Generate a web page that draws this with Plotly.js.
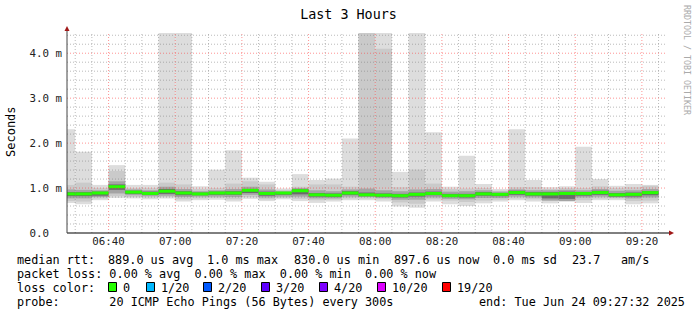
<!DOCTYPE html>
<html><head><meta charset="utf-8">
<script src="https://cdn.plot.ly/plotly-3.0.1.min.js"></script>
<style>html,body{margin:0;padding:0;background:#fff;}#chart{width:697px;height:315px;}</style>
</head><body><div id="chart"></div>
<script>
// ---------------- data ----------------
const day = '2025-06-24 ';
const intervalStart = ['06:25','06:30','06:35','06:40','06:45','06:50','06:55','07:00','07:05','07:10','07:15','07:20',
  '07:25','07:30','07:35','07:40','07:45','07:50','07:55','08:00','08:05','08:10','08:15','08:20',
  '08:25','08:30','08:35','08:40','08:45','08:50','08:55','09:00','09:05','09:10','09:15','09:20'];
// median rtt (ms)
const medianMs = [0.87,0.87,0.89,1.03,0.91,0.88,0.93,0.89,0.87,0.89,0.89,0.95,
  0.88,0.89,0.94,0.85,0.84,0.89,0.85,0.84,0.83,0.86,0.88,0.83,
  0.83,0.87,0.86,0.90,0.87,0.87,0.88,0.88,0.90,0.85,0.86,0.898];
// fastest / slowest ping (ms)
const minMs = [0.67,0.64,0.73,0.78,0.77,0.75,0.77,0.70,0.73,0.74,0.70,0.76,
  0.71,0.75,0.71,0.67,0.70,0.73,0.73,0.70,0.59,0.56,0.70,0.64,
  0.60,0.66,0.70,0.73,0.70,0.66,0.70,0.67,0.73,0.73,0.64,0.66];
const maxMs = [2.31,1.81,1.07,1.51,1.07,1.07,4.60,4.60,1.04,1.41,1.84,1.23,
  1.14,0.99,1.31,1.18,1.21,2.10,4.60,4.60,1.36,4.60,2.24,1.03,
  1.72,1.09,0.98,2.31,1.18,1.02,1.04,1.92,1.20,1.05,1.09,1.07];
// 2nd fastest / 2nd slowest ping (ms)
const p2Lo = [0.71,0.70,0.77,0.82,0.80,0.79,0.80,0.75,0.77,0.78,0.75,0.80,
  0.75,0.78,0.76,0.73,0.74,0.77,0.77,0.75,0.68,0.65,0.75,0.72,
  0.69,0.72,0.74,0.77,0.75,0.72,0.74,0.73,0.77,0.77,0.71,0.72];
const p2Hi = [1.07,1.12,1.00,1.38,1.00,1.00,1.12,1.08,0.98,1.00,1.10,1.15,
  1.08,0.96,1.03,1.08,1.08,1.03,4.60,4.10,1.02,1.41,1.10,0.98,
  0.99,1.00,0.94,1.02,1.02,0.98,1.00,1.00,1.04,1.00,1.02,1.05];
// 4th fastest / 4th slowest ping (ms)
const p4Lo = [0.77,0.77,0.80,0.88,0.84,0.82,0.83,0.80,0.81,0.81,0.80,0.85,
  0.79,0.81,0.81,0.77,0.77,0.81,0.80,0.78,0.74,0.74,0.79,0.76,
  0.75,0.78,0.78,0.81,0.79,0.72,0.71,0.79,0.81,0.79,0.77,0.79];
const p4Hi = [0.97,0.96,0.95,1.15,0.97,0.95,1.03,0.98,0.93,0.95,0.98,1.03,
  0.97,0.93,1.00,0.95,0.93,0.97,0.99,0.95,0.93,0.97,0.98,0.92,
  0.93,0.95,0.92,0.97,0.95,0.95,0.96,0.95,0.98,0.94,0.95,0.98];
// 7th fastest / 7th slowest ping (ms)
const p7Lo = [0.82,0.82,0.83,0.96,0.87,0.85,0.87,0.84,0.84,0.85,0.85,0.89,
  0.83,0.85,0.86,0.81,0.80,0.85,0.82,0.81,0.79,0.81,0.84,0.80,
  0.79,0.83,0.82,0.85,0.83,0.77,0.76,0.83,0.85,0.81,0.81,0.84];
const p7Hi = [0.91,0.91,0.92,1.08,0.94,0.92,0.98,0.93,0.90,0.92,0.93,0.98,
  0.92,0.91,0.97,0.89,0.88,0.93,0.90,0.88,0.87,0.90,0.92,0.87,
  0.87,0.91,0.89,0.94,0.91,0.91,0.92,0.91,0.94,0.89,0.90,0.93];

const yTickVals = [0, 1, 2, 3, 4];
const yTickText = ['0.0\u00a0\u00a0', '1.0 m', '2.0 m', '3.0 m', '4.0 m'];
const lossLabels = ['0', '1/20', '2/20', '3/20', '4/20', '10/20', '19/20'];
const lossColors = ['#26ff00', '#00b8ff', '#0059ff', '#5e00ff', '#7e00ff', '#dd00ff', '#ff0000'];
const rttTokens = ['median rtt:', '889.0 us avg', '1.0 ms max', '830.0 us min', '897.6 us now', '0.0 ms sd', '23.7', 'am/s'];
const legendLine2 = 'packet loss: 0.00 % avg  0.00 % max  0.00 % min  0.00 % now';
const legendLine3 = 'loss color:';
const legendLine4 = 'probe:       20 ICMP Echo Pings (56 Bytes) every 300s';
const endText = 'end: Tue Jun 24 09:27:32 2025';

// ---------------- layout constants ----------------
const W = 697, H = 315, ML = 67, MR = 30, MT = 33, MB = 82;
const PW = W - ML - MR, PH = H - MT - MB;
const px2x = p => (p - ML) / PW;
const py2y = p => (H - MB - p) / PH;
const mono = 'DejaVu Sans Mono, monospace';
const swatchPx = [108, 146, 203, 261, 319, 377, 442];
const rttTokenPx = [16, 107, 206, 293, 393, 492, 571, 620];
const nb = s => s.replace(/ /g, '\u00a0');

function addMin(t, m) {
  let [h, mi] = t.split(':').map(Number);
  let tot = h * 60 + mi + m;
  return String(Math.floor(tot / 60)).padStart(2, '0') + ':' + String(tot % 60).padStart(2, '0');
}

function band(lo, hi, color) {
  return {
    type: 'bar', x: intervalStart.map(t => day + t), base: lo,
    y: hi.map((h, i) => h - lo[i]), width: 300000, offset: 0,
    marker: {color: color, line: {width: 0}}, hoverinfo: 'skip'
  };
}

const medX = [], medY = [];
intervalStart.forEach((t, i) => {
  medX.push(day + t, day + addMin(t, 5), null);
  medY.push(medianMs[i], medianMs[i], null);
});

const traces = [
  band(minMs, maxMs, '#dddddd'),
  band(p2Lo, p2Hi, '#cacaca'),
  band(p4Lo, p4Hi, '#a4a4a4'),
  band(p7Lo, p7Hi, '#6b6b6b'),
  {type: 'scatter', mode: 'lines', x: medX, y: medY, line: {color: lossColors[0], width: 3}, hoverinfo: 'skip'}
];

// grid lines drawn above the smoke (like rrdtool)
const shapes = [];
const gridMinor = 'rgba(120,120,120,0.5)', gridMajor = 'rgba(255,60,60,0.55)';
for (let m = 6 * 60 + 30; m <= 9 * 60 + 25; m += 5) {
  const t = String(Math.floor(m / 60)).padStart(2, '0') + ':' + String(m % 60).padStart(2, '0');
  shapes.push({type: 'line', layer: 'above', xref: 'x', yref: 'paper', x0: day + t, x1: day + t, y0: 0, y1: 1,
    line: {color: m % 20 === 0 ? gridMajor : gridMinor, width: 1, dash: '1px,2px'}});
}
for (let k = 1; k <= 22; k++) {
  const v = k * 0.2;
  shapes.push({type: 'line', layer: 'above', xref: 'paper', yref: 'y', x0: 0, x1: 1, y0: v, y1: v,
    line: {color: k % 5 === 0 ? gridMajor : gridMinor, width: 1, dash: '1px,2px'}});
}
// axis lines with arrows
shapes.push({type: 'line', layer: 'above', xref: 'paper', yref: 'paper', x0: px2x(67), x1: px2x(670), y0: 0, y1: 0, line: {color: '#000', width: 1}});
shapes.push({type: 'line', layer: 'above', xref: 'paper', yref: 'paper', x0: 0, x1: 0, y0: 0, y1: py2y(29), line: {color: '#444', width: 1}});
shapes.push({type: 'path', layer: 'above', xref: 'paper', yref: 'paper',
  path: `M ${px2x(67)} ${py2y(26)} L ${px2x(64.5)} ${py2y(31)} L ${px2x(69.5)} ${py2y(31)} Z`,
  fillcolor: '#a01818', line: {width: 0}});
shapes.push({type: 'path', layer: 'above', xref: 'paper', yref: 'paper',
  path: `M ${px2x(674)} ${py2y(233)} L ${px2x(669)} ${py2y(230.5)} L ${px2x(669)} ${py2y(235.5)} Z`,
  fillcolor: '#a01818', line: {width: 0}});
// loss colour swatches
lossColors.forEach((c, i) => {
  shapes.push({type: 'rect', xref: 'paper', yref: 'paper', layer: 'above',
    x0: px2x(swatchPx[i] + 0.5), x1: px2x(swatchPx[i] + 8.5), y0: py2y(291.5), y1: py2y(282.5),
    fillcolor: c, line: {color: '#000', width: 1}});
});

const ann = [];
function txt(text, px, py, size, extra) {
  ann.push(Object.assign({text: nb(text), xref: 'paper', yref: 'paper', x: px2x(px), y: py2y(py),
    xanchor: 'left', yanchor: 'middle', showarrow: false, borderpad: 0,
    font: {family: mono, size: size, color: '#000'}}, extra || {}));
}
rttTokens.forEach((t, i) => txt(t, rttTokenPx[i], 259.5, 11.8));
txt(legendLine2, 16, 273.5, 11.8);
txt(legendLine3, 16, 287.5, 11.8);
lossLabels.forEach((l, i) => txt(l, swatchPx[i] + 14, 287.5, 11.8));
txt(legendLine4, 16, 301.5, 11.8);
txt(endText, 478, 301.5, 11.8);
txt('Seconds', 11, 132, 12, {xanchor: 'center', textangle: -90});
txt('RRDTOOL / TOBI OETIKER', 687, 60, 8.3, {xanchor: 'center', textangle: 90, font: {family: mono, size: 8.3, color: '#aaaaaa'}});

const layout = {
  width: W, height: H, margin: {l: ML, r: MR, t: MT, b: MB, pad: 0},
  paper_bgcolor: '#fff', plot_bgcolor: '#fff', showlegend: false, barmode: 'overlay',
  title: {text: 'Last 3 Hours', xref: 'container', x: 0.5, xanchor: 'center', yref: 'container', y: 1 - 14 / H, yanchor: 'middle',
    font: {family: mono, size: 13.4, color: '#000'}},
  xaxis: {type: 'date', range: [day + '06:27:32', day + '09:27:32'], tick0: day + '06:00', dtick: 1200000,
    tickformat: '%H:%M', showgrid: false, zeroline: false, showline: false, ticks: '',
    tickfont: {family: mono, size: 10.8, color: '#222'}, fixedrange: true},
  yaxis: {range: [0, 4.45], tickvals: yTickVals, ticktext: yTickText, showgrid: false, zeroline: false,
    showline: false, ticks: '', ticklabelstandoff: 4,
    tickfont: {family: mono, size: 10.8, color: '#222'}, fixedrange: true},
  shapes: shapes, annotations: ann
};
Plotly.newPlot('chart', traces, layout, {staticPlot: true, displayModeBar: false});
</script></body></html>
